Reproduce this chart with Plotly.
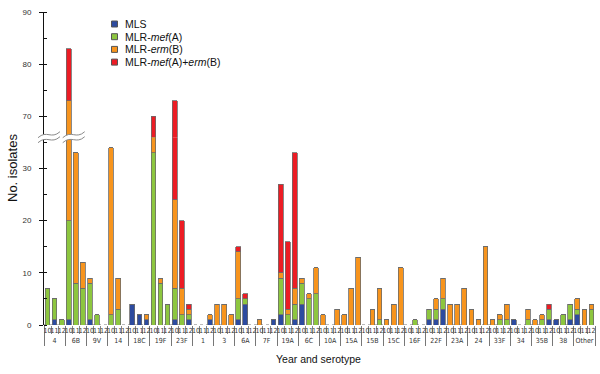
import plotly.graph_objects as go

serotypes = ["4", "6B", "9V", "14", "18C", "19F", "23F", "1", "3", "6A", "7F", "19A", "6C",
             "10A", "15A", "15B", "15C", "16F", "22F", "23A", "24", "33F", "34", "35B", "38", "Other"]
years = ["10", "11", "12"]

# values per bar, ordered serotype by serotype, years 10, 11, 12
mls = [0, 1, 0,  1, 0, 0,  1, 0, 0,  0, 0, 0,  4, 2, 1,  0, 0, 0,  1, 0, 1,
       0, 0, 1,  0, 0, 0,  1, 4, 0,  0, 0, 1,  2, 0, 1,  4, 0, 0,
       0, 0, 0,  0, 0, 0,  0, 0, 0,  0, 0, 0,  0, 0, 0,  1, 1, 3,
       0, 0, 0,  0, 0, 0,  0, 0, 0,  1, 0, 0,  0, 0, 1,  1, 0, 1,  2, 0, 0]
mef = [7, 4, 1,  19, 8, 7,  7, 2, 0,  2, 3, 0,  0, 0, 0,  33, 8, 4,  6, 2, 1,
       0, 0, 0,  0, 0, 0,  4, 1, 0,  0, 0, 0,  7, 2, 3,  4, 5, 6,
       0, 0, 0,  0, 0, 0,  0, 0, 1,  0, 0, 0,  0, 1, 0,  2, 2, 2,
       0, 0, 0,  0, 0, 0,  0, 1, 1,  0, 0, 1,  0, 1, 2,  0, 2, 3,  1, 0, 3]
erm = [0, 0, 0,  53, 25, 5,  1, 0, 0,  32, 6, 0,  0, 0, 1,  33, 1, 0,  17, 5, 1,
       0, 0, 1,  4, 4, 2,  9, 0, 0,  1, 0, 0,  1, 1, 3,  1, 1, 5,
       2, 0, 3,  2, 7, 13,  0, 3, 6,  1, 4, 11,  0, 0, 0,  0, 2, 4,
       4, 4, 7,  3, 1, 15,  1, 1, 3,  0, 0, 2,  1, 1, 0,  0, 0, 0,  2, 3, 1]
both = [0, 0, 0,  10, 0, 0,  0, 0, 0,  0, 0, 0,  0, 0, 0,  4, 0, 0,  49, 13, 1,
        0, 0, 0,  0, 0, 0,  1, 1, 0,  0, 0, 0,  17, 13, 26,  0, 0, 0,
        0, 0, 0,  0, 0, 0,  0, 0, 0,  0, 0, 0,  0, 0, 0,  0, 0, 0,
        0, 0, 0,  0, 0, 0,  0, 0, 0,  0, 0, 0,  0, 0, 1,  0, 0, 0,  0, 0, 0]

series_names = ["MLS", "MLR-<i>mef</i>(A)", "MLR-<i>erm</i>(B)", "MLR-<i>mef</i>(A)+<i>erm</i>(B)"]
series_vals = [mls, mef, erm, both]
colors = ["#2d4b9f", "#8dc63f", "#f7941d", "#ec1c24"]

lower_ticks = [0, 10, 20, 30]
upper_ticks = [70, 80, 90]
lower_range = [0, 36]
upper_range = [66, 90]

xs = [[s for s in serotypes for _ in years], [y for _ in serotypes for y in years]]

W, H = 600, 374
ML, MR, MT, MB = 44, 5, 12, 49
PW, PH = W - ML - MR, H - MT - MB
split = (lower_range[1] - lower_range[0]) / ((lower_range[1] - lower_range[0]) + (upper_range[1] - upper_range[0]))

fig = go.Figure()
for name, vals, col in zip(series_names, series_vals, colors):
    for ax in ("y", "y2"):
        fig.add_trace(go.Bar(x=xs, y=vals, name=name, yaxis=ax, showlegend=False,
                             marker=dict(color=col, line=dict(color="#6b6b6b", width=0.8)),
                             hoverinfo="skip"))

font_family = "Liberation Sans, Arial, sans-serif"
narrow_family = "Liberation Sans Narrow, DejaVu Sans Condensed, Liberation Sans, Arial, sans-serif"

def px_to_paper(px, py):
    return (px - ML) / PW, (MT + PH - py) / PH

def break_shapes(cx, cy, w=22):
    shapes = []
    L, R = cx - w / 2, cx + w / 2
    def curve(off):
        pts = [(L, cy + 3 + off), (L + w * 0.4, cy - 5 + off), (L + w * 0.6, cy + 5 + off), (R, cy - 3 + off)]
        return [px_to_paper(*p) for p in pts]
    a = curve(-2.5)
    b = curve(2.5)
    fill = ("M{},{} C{},{} {},{} {},{} L{},{} C{},{} {},{} {},{} Z").format(
        a[0][0], a[0][1], a[1][0], a[1][1], a[2][0], a[2][1], a[3][0], a[3][1],
        b[3][0], b[3][1], b[2][0], b[2][1], b[1][0], b[1][1], b[0][0], b[0][1])
    shapes.append(dict(type="path", xref="paper", yref="paper", path=fill,
                       fillcolor="white", line=dict(width=0), layer="above"))
    for c in (a, b):
        p = "M{},{} C{},{} {},{} {},{}".format(c[0][0], c[0][1], c[1][0], c[1][1],
                                                c[2][0], c[2][1], c[3][0], c[3][1])
        shapes.append(dict(type="path", xref="paper", yref="paper", path=p,
                           line=dict(color="#8a8a8a", width=1), layer="above"))
    return shapes

junction_py = MT + PH * (1 - split)
n_bars = len(xs[0])
idx_6b = serotypes.index("6B") * len(years)
bar_cx = ML + (idx_6b + 0.5) / n_bars * PW

shapes = [dict(type="line", xref="paper", yref="y", x0=0, x1=1, y0=0, y1=0,
               line=dict(color="#777777", width=1, dash="dot"), layer="below")]
shapes += break_shapes(ML + 5, junction_py)
shapes += break_shapes(bar_cx + 5, junction_py)

# manual legend (compact rows like the reference)
annotations = []
leg_x_sym, leg_x_txt, leg_y0, leg_dy = 114.5, 123, 24, 12.7
for i, (name, col) in enumerate(zip(series_names, colors)):
    cy = leg_y0 + i * leg_dy
    x0, y0 = px_to_paper(leg_x_sym - 3, cy - 3)
    x1, y1 = px_to_paper(leg_x_sym + 3, cy + 3)
    shapes.append(dict(type="rect", xref="paper", yref="paper", x0=x0, x1=x1, y0=y0, y1=y1,
                       fillcolor=col, line=dict(color="#555555", width=1), layer="above"))
    tx, ty = px_to_paper(leg_x_txt, cy)
    annotations.append(dict(text=name, xref="paper", yref="paper", x=tx, y=ty,
                            xanchor="left", yanchor="middle", showarrow=False,
                            font=dict(size=10.5, family=font_family, color="#111111")))

annotations += [
    dict(text="No. isolates", xref="paper", yref="paper",
         x=px_to_paper(12.5, 0)[0], y=0.5, textangle=-90, showarrow=False,
         xanchor="center", yanchor="middle",
         font=dict(size=13, family=font_family, color="#111111")),
    dict(text="Year and serotype", xref="paper", yref="paper",
         x=px_to_paper(318, 0)[0], y=px_to_paper(0, 359)[1], showarrow=False,
         xanchor="center", yanchor="middle",
         font=dict(size=10.5, family=font_family, color="#111111")),
]

fig.update_layout(
    width=W, height=H,
    margin=dict(l=ML, r=MR, t=MT, b=MB, autoexpand=False),
    paper_bgcolor="white", plot_bgcolor="white",
    barmode="stack", bargap=0.33,
    font=dict(family=font_family, color="#222222"),
    showlegend=False,
    xaxis=dict(type="multicategory", showgrid=False, showline=False, automargin=False,
               tickson="boundaries", ticks="outside", ticklen=8, tickcolor="#888888",
               tickangle=0, dtick=1, nticks=200,
               showdividers=True, dividercolor="#777777", dividerwidth=1,
               tickfont=dict(size=7, family=narrow_family, color="#333333"),
               anchor="y"),
    yaxis=dict(domain=[0, split], range=lower_range, tickvals=lower_ticks, automargin=False,
               showgrid=False, zeroline=False, showline=True, linecolor="#111111", linewidth=1,
               ticks="outside", ticklen=4, tickcolor="#111111",
               minor=dict(dtick=5, ticks="inside", ticklen=3, tickcolor="#111111", showgrid=False),
               tickfont=dict(size=8, color="#333333"), ticklabelstandoff=6),
    yaxis2=dict(domain=[split, 1], range=upper_range, tickvals=upper_ticks, anchor="x", automargin=False,
                showgrid=False, zeroline=False, showline=True, linecolor="#111111", linewidth=1,
                ticks="outside", ticklen=4, tickcolor="#111111",
                minor=dict(dtick=5, ticks="inside", ticklen=3, tickcolor="#111111", showgrid=False),
                tickfont=dict(size=8, color="#333333"), ticklabelstandoff=6),
    shapes=shapes,
    annotations=annotations,
)

fig.write_html("out.html", config={"displayModeBar": False},
               post_script="document.body.style.margin='0';document.body.style.padding='0';")
